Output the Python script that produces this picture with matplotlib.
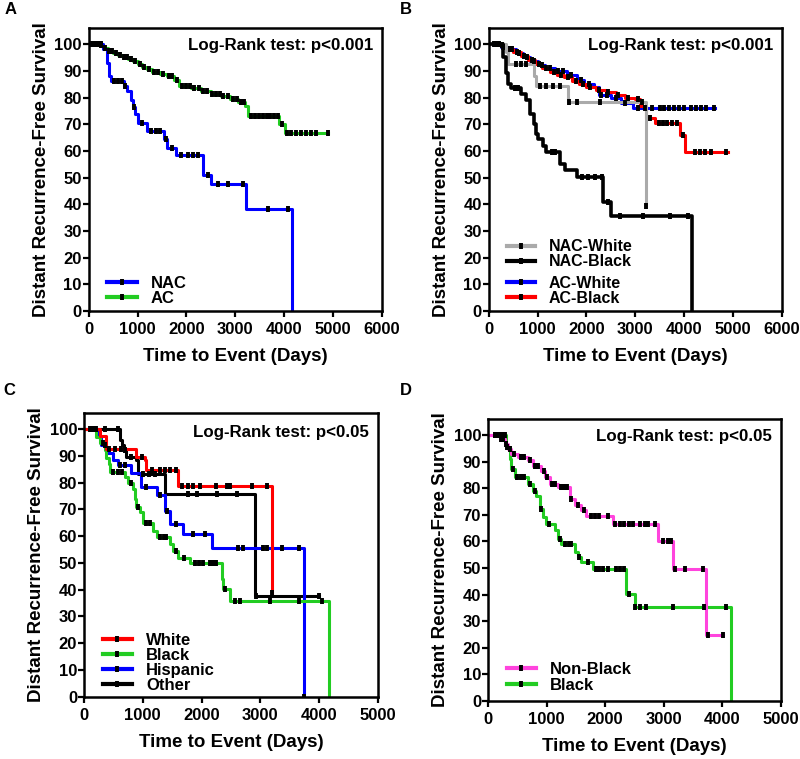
import numpy as np
import matplotlib
matplotlib.use("Agg")
import matplotlib.pyplot as plt
from matplotlib.lines import Line2D

plt.rcParams['font.family'] = ['Liberation Sans', 'DejaVu Sans']
plt.rcParams['font.weight'] = 'bold'

# ---------------- data ----------------
# Panel A
a_nac_t = [0, 300, 380, 420, 460, 720, 790, 860, 900, 940, 1000, 1200, 1540, 1610, 1780, 2340, 2510, 3215, 4170]
a_nac_s = [100, 98, 93, 88, 86, 84.5, 82.5, 79, 76.5, 74, 70.5, 67.5, 64.5, 61, 58.5, 51, 47.7, 38.3, 0]
a_nac_c = [60, 140, 200, 260, 520, 600, 680, 750, 920, 1100, 1280, 1380, 1450, 1580, 1700, 1890, 2030, 2130, 2240, 2440, 2650, 2850, 3160, 3670, 4080]
a_ac_t = [0, 200, 300, 400, 500, 600, 700, 800, 900, 1000, 1100, 1200, 1300, 1450, 1600, 1750, 1850, 2100, 2300, 2500, 2700, 2900, 3050, 3200, 3270, 3900, 4020, 4905]
a_ac_s = [100, 99.5, 98.5, 97.5, 96.8, 96, 95.3, 94.5, 93.5, 92.5, 91.5, 90.5, 89.5, 88.8, 88, 86.5, 84.5, 83.5, 82.5, 81.5, 80.5, 79.5, 78.5, 77, 73, 70, 66.8, 66.8]
a_ac_c = [100, 180, 260, 330, 420, 480, 560, 640, 720, 780, 860, 950, 1040, 1130, 1230, 1340, 1420, 1520, 1640, 1700, 1800,
          1900, 2000, 2080, 2160, 2250, 2350, 2430, 2520, 2600, 2680, 2760, 2850, 2950, 3030, 3120, 3180, 3320, 3400, 3480,
          3560, 3650, 3720, 3800, 3880, 3960, 4060, 4150, 4250, 4350, 4450, 4550, 4660, 4900]

# Panel B
b_nw_t = [0, 350, 400, 930, 970, 1620, 3215]
b_nw_s = [100, 97, 92.6, 88, 84.5, 78.3, 39.5]
b_nw_c = [560, 660, 770, 1040, 1180, 1310, 1450, 1650, 1800, 2280, 3130, 3215]
b_nb_t = [0, 290, 350, 400, 460, 660, 760, 850, 920, 970, 1010, 1120, 1180, 1460, 1560, 1800, 2340, 2510, 4170]
b_nb_s = [100, 95, 89, 85, 83.5, 81.5, 79, 74, 70, 66.5, 64.5, 62, 59.5, 55, 52.7, 50.2, 40.8, 35.5, 0]
b_nb_c = [100, 200, 540, 600, 1290, 1350, 1900, 2040, 2180, 2310, 2450, 2680, 3160, 3710, 4080]
b_aw_t = [0, 250, 400, 550, 700, 850, 1000, 1150, 1350, 1600, 1800, 1950, 2150, 2250, 2500, 2700, 2950, 4630]
b_aw_s = [100, 99, 98, 96.5, 95, 93.5, 92, 91, 90, 88.5, 86.5, 85, 84, 81, 80, 78, 76.2, 76.2]
b_aw_c = [150, 300, 480, 620, 780, 920, 1080, 1250, 1420, 1520, 1680, 1880, 2050, 2300, 2420, 2600, 2800, 3050, 3200,
          3350, 3500, 3600, 3700, 3800, 3900, 4000, 4150, 4250, 4350, 4450, 4620]
b_ab_t = [0, 200, 350, 500, 650, 800, 950, 1100, 1250, 1400, 1550, 1700, 1850, 2000, 2200, 2400, 2600, 2800, 3000, 3100, 3230, 3400, 3910, 4020, 4905]
b_ab_s = [100, 99.5, 98, 97, 95.5, 94, 92.5, 91, 89.5, 88.5, 87.5, 86, 85, 84, 83, 82, 81, 80, 79.5, 77, 72.5, 70.5, 66, 59.5, 59.5]
b_ab_c = [120, 280, 430, 570, 720, 880, 1020, 1180, 1330, 1480, 1630, 1780, 1930, 2080, 2250, 2450, 2650, 2850, 3050,
          3300, 3480, 3560, 3650, 3750, 3850, 3970, 4220, 4320, 4440, 4560, 4870]

# Panel C
c_wh_t = [0, 270, 380, 890, 1030, 1060, 1600, 3190]
c_wh_s = [100, 97.5, 92.4, 89.6, 88.3, 84.6, 78.7, 38.8]
c_wh_c = [100, 200, 430, 520, 630, 980, 1150, 1290, 1380, 1460, 1570, 1660, 1770, 1860, 1970, 2250, 2430, 2480, 2850, 3110, 3190]
c_bl_t = [0, 210, 267, 352, 381, 426, 438, 693, 750, 835, 864, 892, 949, 1006, 1176, 1233, 1460, 1517, 1602, 1801, 2341, 2369, 2483, 4159]
c_bl_s = [100, 97, 94.6, 92, 89, 87, 84, 82, 80, 77.7, 74, 70.8, 69, 65, 62, 59.5, 57, 54.5, 52, 50.1, 43.9, 40.1, 35.7, 0]
c_bl_c = [150, 320, 500, 580, 650, 800, 920, 1060, 1130, 1300, 1360, 1400, 1560, 1700, 1880, 1960, 2030, 2140, 2200, 2250,
          2390, 2570, 2650, 3170, 3660, 4050]
c_hi_t = [0, 240, 295, 380, 494, 580, 807, 977, 1233, 1375, 1460, 1688, 2170, 3733]
c_hi_s = [100, 97, 94, 90.9, 88.3, 86.5, 83.6, 78.3, 75.2, 69.5, 64.5, 60.8, 55.4, 0]
c_hi_c = [120, 360, 620, 700, 1050, 1290, 1420, 1570, 1860, 2060, 2625, 2710, 3050, 3110, 3360, 3650, 3733]
c_ot_t = [0, 608, 650, 680, 722, 892, 920, 1375, 2909, 3990]
c_ot_s = [100, 95.9, 94, 92, 89.6, 88.3, 83.3, 75.8, 37.8, 37.8]
c_ot_c = [150, 350, 580, 700, 800, 1000, 1100, 1200, 1770, 1920, 2260, 2600, 2920, 3990]

# Panel D
d_nb_t = [0, 200, 285, 342, 400, 512, 683, 769, 911, 968, 1054, 1196, 1395, 1481, 1595, 1680, 2135, 2904, 3160, 3730, 4015]
d_nb_s = [100, 98.5, 96.6, 94.7, 92.9, 91.6, 90.4, 88.5, 86.6, 84.1, 81.6, 80.4, 76, 73.5, 71.6, 69.7, 66.6, 60.3, 49.7, 24.7, 24.7]
d_nb_c = [120, 170, 220, 260, 300, 380, 450, 560, 620, 720, 800, 860, 950, 1000, 1100, 1150, 1250, 1300, 1350, 1420,
          1540, 1640, 1760, 1830, 1900, 2050, 2170, 2250, 2330, 2400, 2480, 2590, 2680, 2730, 2850, 2990, 3080, 3130,
          3190, 3360, 3670, 3760, 4015]
d_bl_t = [0, 313, 370, 400, 456, 683, 769, 826, 883, 940, 997, 1139, 1196, 1253, 1480, 1538, 1595, 1794, 2363, 2506, 4157]
d_bl_s = [100, 95.4, 91, 87.2, 84.1, 81.6, 79.1, 77.2, 72.2, 69.1, 66.6, 64.1, 61, 59.1, 56, 54.1, 52.2, 49.7, 40.3, 35.3, 0]
d_bl_c = [120, 180, 240, 290, 330, 420, 500, 560, 620, 720, 800, 900, 1040, 1230, 1310, 1380, 1420, 1560, 1700, 1850,
          1900, 1970, 2050, 2180, 2260, 2330, 2400, 2510, 2600, 2700, 3160, 3680, 4070]

BLUE, GREEN, RED, GRAY, BLACK, PINK = '#0000ff', '#22cc22', '#ff0000', '#aaaaaa', '#000000', '#ff44dd'

fig = plt.figure(figsize=(8, 7.59), dpi=100)


def km(ax, t, s, c, color, lw=2.2, z=2):
    # step curve plus censor ticks placed on it
    ax.step(t, s, where='post', color=color, lw=lw, zorder=z)
    t = np.asarray(t)
    s = np.asarray(s)
    idx = np.searchsorted(t, c, side='right') - 1
    ax.plot(c, s[idx], ls='none', marker='|', ms=4.5, mew=2.8, color='black', zorder=10)


def style(ax, xmax, letter, ptext, fx, fy):
    ax.set_xlim(0, xmax)
    ax.set_ylim(0, 106)
    ax.set_yticks(range(0, 101, 10))
    ax.set_xticks(range(0, xmax + 1, 1000))
    for sp in ax.spines.values():
        sp.set_linewidth(1.8)
    ax.tick_params(direction='out', length=4, width=1.6, labelsize=12)
    ax.tick_params(axis='y', pad=1)
    ax.tick_params(axis='x', pad=4)
    ax.set_xlabel('Time to Event (Days)', fontsize=13.5, fontweight='bold', labelpad=8)
    ax.set_ylabel('Distant Recurrence-Free Survival', fontsize=13.5, fontweight='bold', labelpad=3)
    ax.text(0.97, fy, ptext, transform=ax.transAxes, ha='right', va='center', fontsize=12.2, fontweight='bold')
    fig.text(fx, 0.998 if letter in 'AB' else 0.495, letter, fontsize=12, fontweight='bold', va='top')


def handle(color):
    return Line2D([0], [0], color=color, lw=3, marker='|', ms=4.5, mew=2.8, mec='black')


leg_kw = dict(loc='lower left', frameon=False, handlelength=1.75, borderpad=0, handletextpad=0.85)

# A
axA = fig.add_axes([0.111, 0.590, 0.366, 0.373])
km(axA, a_ac_t, a_ac_s, a_ac_c, GREEN)
km(axA, a_nac_t, a_nac_s, a_nac_c, BLUE)
style(axA, 6000, 'A', 'Log-Rank test: p<0.001', 0.006, 0.937)
axA.legend([handle(BLUE), handle(GREEN)], ['NAC', 'AC'], bbox_to_anchor=(0.035, -0.01),
           labelspacing=0.0, fontsize=12, **leg_kw)

# B
axB = fig.add_axes([0.611, 0.590, 0.366, 0.373])
km(axB, b_aw_t, b_aw_s, b_aw_c, BLUE)
km(axB, b_ab_t, b_ab_s, b_ab_c, RED)
km(axB, b_nw_t, b_nw_s, b_nw_c, GRAY)
km(axB, b_nb_t, b_nb_s, b_nb_c, BLACK, lw=2.6, z=3)
style(axB, 6000, 'B', 'Log-Rank test: p<0.001', 0.5, 0.937)
legB1 = axB.legend([handle(GRAY), handle(BLACK)], ['NAC-White', 'NAC-Black'],
                   bbox_to_anchor=(0.035, 0.12), labelspacing=0.0, fontsize=11.5, **leg_kw)
axB.add_artist(legB1)
axB.legend([handle(BLUE), handle(RED)], ['AC-White', 'AC-Black'],
           bbox_to_anchor=(0.035, -0.01), labelspacing=0.0, fontsize=11.5, **leg_kw)

# C
axC = fig.add_axes([0.105, 0.082, 0.3675, 0.374])
km(axC, c_ot_t, c_ot_s, c_ot_c, BLACK)
km(axC, c_hi_t, c_hi_s, c_hi_c, BLUE)
km(axC, c_bl_t, c_bl_s, c_bl_c, GREEN)
km(axC, c_wh_t, c_wh_s, c_wh_c, RED)
style(axC, 5000, 'C', 'Log-Rank test: p<0.05', 0.004, 0.932)
axC.legend([handle(RED), handle(GREEN), handle(BLUE), handle(BLACK)], ['White', 'Black', 'Hispanic', 'Other'],
           bbox_to_anchor=(0.035, -0.016), labelspacing=0.0, fontsize=12, **leg_kw)

# D
axD = fig.add_axes([0.610, 0.0765, 0.366, 0.3715])
km(axD, d_bl_t, d_bl_s, d_bl_c, GREEN)
km(axD, d_nb_t, d_nb_s, d_nb_c, PINK)
style(axD, 5000, 'D', 'Log-Rank test: p<0.05', 0.5, 0.937)
axD.legend([handle(PINK), handle(GREEN)], ['Non-Black', 'Black'], bbox_to_anchor=(0.035, 0.0),
           labelspacing=0.05, fontsize=12, **leg_kw)

fig.savefig('out.png', dpi=100)
